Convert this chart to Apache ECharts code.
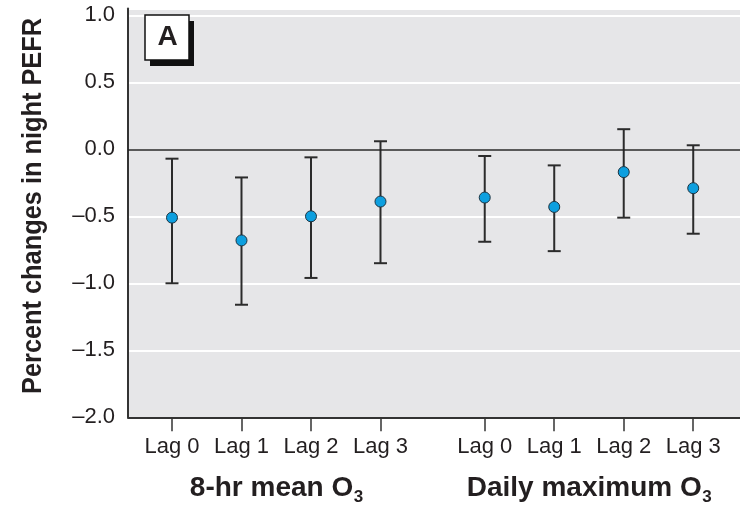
<!DOCTYPE html>
<html>
<head>
<meta charset="utf-8">
<script src="https://cdn.jsdelivr.net/npm/echarts@6/dist/echarts.min.js"></script>
<style>
  html, body { margin: 0; padding: 0; background: #fff; }
  #chart { width: 740px; height: 505px; }
</style>
</head>
<body>
<div id="chart"></div>
<script>
// Lag labels under each tick, and where each lag sits on the x scale
var lagLabels = ["Lag 0", "Lag 1", "Lag 2", "Lag 3", "Lag 0", "Lag 1", "Lag 2", "Lag 3"];
var slots = [1, 2, 3, 4, 5.5, 6.5, 7.5, 8.5];
var groupNames = ["8-hr mean O", "Daily maximum O"];
var groupCentres = [2.5, 7];

// percent change in night PEFR, with 95% CI
var estimate = [-0.51, -0.68, -0.50, -0.39, -0.36, -0.43, -0.17, -0.29];
var lower    = [-1.00, -1.16, -0.96, -0.85, -0.69, -0.76, -0.51, -0.63];
var upper    = [-0.07, -0.21, -0.06,  0.06, -0.05, -0.12,  0.15,  0.03];

var FONT = "'Liberation Sans', Arial, Helvetica, sans-serif";
var INK = "#231f20";

var chart = echarts.init(document.getElementById("chart"));

var ciData = slots.map(function (x, i) { return [x, lower[i], upper[i]]; });
var ptData = slots.map(function (x, i) { return [x, estimate[i]]; });

function renderCI(params, api) {
    var x = api.value(0);
    var lo = api.coord([x, api.value(1)]);
    var hi = api.coord([x, api.value(2)]);
    var cap = 6.5;
    var style = { stroke: "#2b2b2b", lineWidth: 2 };
    return {
        type: "group",
        children: [
            { type: "line", shape: { x1: lo[0], y1: lo[1], x2: hi[0], y2: hi[1] }, style: style },
            { type: "line", shape: { x1: lo[0] - cap, y1: lo[1], x2: lo[0] + cap, y2: lo[1] }, style: style },
            { type: "line", shape: { x1: hi[0] - cap, y1: hi[1], x2: hi[0] + cap, y2: hi[1] }, style: style }
        ]
    };
}

chart.setOption({
    animation: false,
    grid: {
        left: 128, right: 0, top: 8.6, bottom: 87.7,
        show: true, backgroundColor: "#e6e6e8", borderWidth: 0
    },
    xAxis: {
        type: "value",
        min: 0.367, max: 9.173,
        axisLine: { show: true, onZero: false, lineStyle: { color: "#333", width: 2 } },
        axisTick: { show: true, inside: false, length: 14, customValues: slots,
                    lineStyle: { color: "#333", width: 1.5 } },
        axisLabel: {
            customValues: slots,
            margin: 19,
            color: INK, fontFamily: FONT, fontSize: 22,
            formatter: function (v) {
                var i = slots.indexOf(v);
                return i >= 0 ? lagLabels[i] : "";
            }
        },
        splitLine: { show: false }
    },
    yAxis: {
        type: "value",
        min: -2.0, max: 1.05, interval: 0.5,
        axisLine: { show: true, onZero: false, lineStyle: { color: "#333", width: 2 } },
        axisTick: { show: false },
        axisLabel: {
            showMaxLabel: false,
            margin: 13,
            color: INK, fontFamily: FONT, fontSize: 22,
            formatter: function (v) {
                var s = Math.abs(v).toFixed(1);
                return v < 0 ? "\u2013" + s : s;
            }
        },
        splitLine: { show: true, lineStyle: { color: "#ffffff", width: 2 } }
    },
    series: [
        {
            type: "custom",
            renderItem: renderCI,
            data: ciData,
            z: 2,
            markLine: {
                silent: true, symbol: "none", label: { show: false },
                lineStyle: { color: "#222", width: 1.5, type: "solid" },
                data: [{ yAxis: 0 }]
            }
        },
        {
            type: "scatter",
            data: ptData,
            symbol: "circle",
            symbolSize: 11,
            itemStyle: { color: "#0d9fdf", borderColor: "#1c3442", borderWidth: 1, opacity: 1 },
            z: 3
        }
    ]
});

// text extras: panel letter, rotated axis title and the group names with subscript 3
var ctx = document.createElement("canvas").getContext("2d");
function textWidth(str, font) { ctx.font = font; return ctx.measureText(str).width; }

var graphics = [
    { type: "rect", shape: { x: 150, y: 21, width: 44, height: 45 }, style: { fill: "#111" }, z: 10 },
    { type: "rect", shape: { x: 145, y: 15, width: 44, height: 45 },
      style: { fill: "#fff", stroke: "#111", lineWidth: 1.5 }, z: 11 },
    { type: "text", x: 167.5, y: 37.5, z: 12,
      style: { text: "A", font: "bold 28px " + FONT, fill: INK, align: "center", verticalAlign: "middle" } },
    { type: "text", x: 33, y: 206, rotation: Math.PI / 2, scaleX: 0.905,
      style: { text: "Percent changes in night PEFR", font: "bold 28px " + FONT, fill: INK,
               align: "center", verticalAlign: "middle" } }
];

var mainFont = "bold 28px " + FONT;
var subFont = "bold 17px " + FONT;
groupNames.forEach(function (name, g) {
    var cx = chart.convertToPixel({ xAxisIndex: 0 }, groupCentres[g]);
    var w1 = textWidth(name, mainFont);
    var w2 = textWidth("3", subFont);
    var x0 = cx - (w1 + w2) / 2;
    graphics.push({ type: "text", x: x0, y: 488,
        style: { text: name, font: mainFont, fill: INK, align: "left", verticalAlign: "middle" } });
    graphics.push({ type: "text", x: x0 + w1 + 0.5, y: 497,
        style: { text: "3", font: subFont, fill: INK, align: "left", verticalAlign: "middle" } });
});

chart.setOption({ graphic: graphics });
</script>
</body>
</html>
